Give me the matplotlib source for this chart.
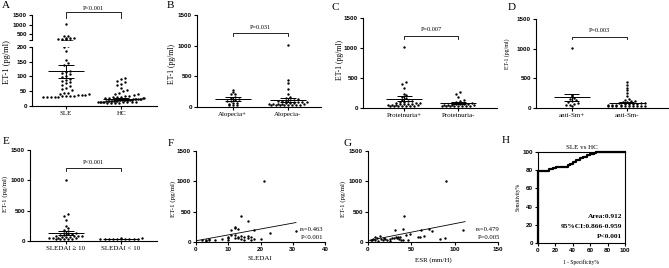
import numpy as np
import matplotlib.pyplot as plt

plt.rcParams['font.family'] = 'Liberation Sans'
plt.rcParams['font.weight'] = 'bold'

W, H = 669, 268
SERIF = ['Liberation Serif', 'DejaVu Serif']

# ---- A: SLE vs HC
sle = [1010, 430, 420, 300, 290, 280, 270, 260, 250, 205, 200,
       185, 155, 145, 140, 120, 115, 112, 110, 100, 98, 92, 88, 85, 83, 77, 72,
       68, 62, 58, 55, 45, 43, 42, 40, 38, 37, 36, 35, 34, 33, 33, 32, 31, 30, 30, 30]
hc = [95, 90, 85, 80, 75, 70, 62, 55, 50, 45, 42, 40, 38, 35, 33, 32, 30, 30, 28,
      28, 27, 26, 25, 25, 24, 24, 23, 23, 22, 22, 21, 21, 20, 20, 20, 19, 19, 18,
      18, 18, 17, 17, 16, 16, 16, 15, 15, 15, 14, 14, 13, 13, 12, 12, 11, 11, 10, 10]
# ---- B-E: subgroups
alo_pos = [270, 245, 210, 205, 165, 140, 130, 120, 100, 90, 70, 60, 50, 40, 35, 30]
alo_neg = [1010, 435, 395, 300, 220, 165, 140, 130, 120, 110, 100, 95, 90, 85, 80, 75,
           70, 65, 60, 55, 50, 48, 45, 42, 40, 38, 36, 35, 33, 32, 31, 30]
prot_pos = [1010, 435, 405, 340, 240, 210, 185, 160, 140, 120, 110, 100, 95, 90, 85, 80,
            75, 70, 65, 60, 55, 50, 45, 42, 40, 38, 36, 35, 33, 31, 30]
prot_neg = [265, 230, 185, 130, 110, 100, 90, 80, 75, 70, 65, 60, 55, 50, 45, 42, 40,
            38, 36, 35, 33, 32, 31, 30]
sm_pos = [1010, 225, 200, 170, 150, 130, 110, 95, 80, 65, 55, 45, 35]
sm_neg = [430, 390, 335, 295, 250, 195, 160, 140, 120, 110, 100, 95, 90, 85, 80, 75, 70,
          65, 60, 55, 50, 48, 45, 42, 40, 38, 36, 35, 33, 32, 31, 30, 30]
sledai_hi = [1010, 440, 410, 345, 240, 210, 180, 160, 140, 130, 120, 110, 100, 95, 90, 85,
             80, 75, 70, 65, 60, 55, 50, 45, 42, 40, 38, 36, 35, 33]
sledai_lo = [45, 42, 40, 38, 37, 36, 35, 34, 33, 32, 31, 30]

# mean / SEM
means = {'A': [117, 25], 'B': [131, 118], 'C': [155, 83], 'D': [180, 92], 'E': [137, 36]}
sems = {'A': [21, 3], 'B': [30, 33], 'C': [40, 12], 'D': [55, 15], 'E': [35, 2]}
pvals = {'A': 'P<0.001', 'B': 'P=0.031', 'C': 'P=0.007', 'D': 'P=0.003', 'E': 'P<0.001'}

# ---- F: SLEDAI vs ET-1
f_x = [2, 3, 3, 4, 4, 6, 8, 10, 10, 10, 11, 11, 12, 12, 12, 12, 13, 13, 13, 14, 14, 14,
       15, 15, 16, 16, 16, 17, 17, 18, 18, 20, 21, 23, 31]
f_y = [30, 40, 20, 30, 50, 40, 50, 90, 60, 40, 200, 110, 245, 230, 120, 70, 220, 90, 60,
       425, 100, 50, 80, 40, 350, 100, 60, 90, 40, 200, 50, 55, 1010, 150, 185]
f_fit = [20, 9.7]   # intercept, slope
# ---- G: ESR vs ET-1
g_x = [3, 5, 6, 8, 8, 10, 12, 14, 15, 17, 18, 20, 22, 25, 25, 28, 30, 31, 32, 33, 35, 36,
       37, 38, 40, 40, 41, 44, 46, 49, 58, 60, 61, 65, 70, 74, 83, 89, 90, 110]
g_y = [25, 40, 50, 30, 80, 60, 20, 100, 45, 35, 60, 50, 40, 55, 20, 60, 70, 200, 90, 60,
       75, 45, 80, 30, 215, 35, 425, 120, 30, 135, 75, 80, 200, 100, 220, 185, 55, 60, 1010, 195]
g_fit = [22, 2.8]
# ---- H: ROC
roc_fpr = [0, 0, 13, 13, 17, 17, 21, 21, 27, 27, 35, 35, 37, 37, 40, 40, 44, 44, 48, 48,
           52, 52, 56, 56, 60, 60, 64, 64, 67, 67, 100]
roc_tpr = [0, 79, 79, 81, 81, 82, 82, 83, 83, 84, 84, 86, 86, 87, 87, 89, 89, 91, 91, 93,
           93, 95, 95, 97, 97, 98, 98, 99, 99, 100, 100]


def box(l, t, r, b):
    return [l / W, 1 - b / H, (r - l) / W, (b - t) / H]


def style(ax, lsize=4.5):
    for s in ('top', 'right'):
        ax.spines[s].set_visible(False)
    for s in ('left', 'bottom'):
        ax.spines[s].set_linewidth(0.8)
    ax.tick_params(width=0.8, length=2.5, labelsize=lsize, pad=1.2)


def swarm(vals, center, binw, step, maxw=0.42):
    v = np.sort(np.asarray(vals, float))
    xs = np.zeros_like(v)
    bins = np.floor(v / binw)
    for b in np.unique(bins):
        idx = np.where(bins == b)[0]
        n = len(idx)
        st = step if n < 2 else min(step, 2 * maxw / (n - 1))
        xs[idx] = center + (np.arange(n) - (n - 1) / 2) * st
    return xs, v


def dots(ax, groups, key, binw, step=0.075):
    for i, g in enumerate(groups):
        xs, v = swarm(g, i, binw, step)
        ax.scatter(xs, v, s=3, c='black', lw=0, zorder=3)
        m, e = means[key][i], sems[key][i]
        ax.hlines(m, i - 0.33, i + 0.33, color='black', lw=0.7, zorder=4)
        ax.vlines(i, m - e, m + e, color='black', lw=0.7, zorder=4)
        ax.hlines([m - e, m + e], i - 0.14, i + 0.14, color='black', lw=0.7, zorder=4)


def bracket(ax, y, d, txt, ty):
    ax.plot([0, 0, 1, 1], [y - d, y, y, y - d], color='black', lw=0.6, clip_on=False)
    ax.text(0.5, ty, txt, ha='center', va='bottom', fontsize=4.5, family=SERIF,
            fontweight='normal')


def cats(ax, labels, xl, xr):
    ax.set_xlim(xl, xr)
    ax.set_xticks([0, 1])
    ax.set_xticklabels(labels, fontsize=5, family=SERIF, fontweight='normal')


def ylab(x, y, txt, size):
    fig.text(x / W, 1 - y / H, txt, rotation=90, ha='center', va='center',
             fontsize=size, family=SERIF, fontweight='normal')


def letter(x, y, txt):
    fig.text(x / W, 1 - y / H, txt, ha='left', va='top', fontsize=8, family=SERIF,
             fontweight='normal')


fig = plt.figure(figsize=(6.69, 2.68), dpi=100)

# A (broken axis)
axA1 = fig.add_axes(box(32, 15, 157, 40))
axA2 = fig.add_axes(box(32, 47, 157, 106))
for ax in (axA1, axA2):
    style(ax)
    dots(ax, [sle, hc], 'A', 14 if ax is axA2 else 60)
axA1.set_ylim(200, 1500)
axA1.set_yticks([200, 500, 1000, 1500])
axA1.set_yticklabels(['', '500', '1000', '1500'])
axA1.spines['bottom'].set_visible(False)
axA1.set_xticks([])
axA1.set_xlim(-0.62, 1.65)
axA2.set_ylim(0, 200)
axA2.set_yticks([0, 50, 100, 150, 200])
cats(axA2, ['SLE', 'HC'], -0.62, 1.65)
bracket(axA1, 1670, 330, pvals['A'], 1720)
ylab(7, 62, 'ET-1 (pg/ml)', 6)
letter(2, 1, 'A')

panels = [
    ('B', box(197, 15, 321, 107), [alo_pos, alo_neg], ['Alopecia+', 'Alopecia-'], (-0.65, 1.6), (172, 64, 5.5), (167, 1)),
    ('C', box(363, 18, 497, 108), [prot_pos, prot_neg], ['Proteinuria+', 'Proteinuria-'], (-0.76, 1.72), (340, 60, 5.5), (332, 3)),
    ('D', box(536, 19, 668, 108), [sm_pos, sm_neg], ['anti-Sm+', 'anti-Sm-'], (-0.65, 1.75), (507, 54, 4.2), (508, 3)),
    ('E', box(30, 150, 157, 241), [sledai_hi, sledai_lo], ['SLEDAI \u2265 10', 'SLEDAI < 10'], (-0.65, 1.65), (5, 194, 5), (3, 137)),
]
for key, rect, groups, labels, xlim, yl, lt in panels:
    ax = fig.add_axes(rect)
    style(ax)
    dots(ax, groups, key, 45, 0.075)
    ax.set_ylim(0, 1500)
    ax.set_yticks([0, 500, 1000, 1500])
    cats(ax, labels, *xlim)
    bracket(ax, 1200, 45, pvals[key], 1260)
    ylab(yl[0], yl[1], 'ET-1 (pg/ml)', yl[2])
    letter(lt[0], lt[1], key)

# F
axF = fig.add_axes(box(196, 151, 325, 242))
style(axF)
axF.scatter(f_x, f_y, s=3, c='black', lw=0, zorder=3)
xx = np.array([0, 31])
axF.plot(xx, f_fit[0] + f_fit[1] * xx, color='black', lw=0.6)
axF.set_xlim(0, 40)
axF.set_ylim(0, 1500)
axF.set_xticks([0, 10, 20, 30, 40])
axF.set_yticks([0, 500, 1000, 1500])
axF.text(39.5, 198, 'rs=0.463', ha='right', va='center', fontsize=4.8, family=SERIF, fontweight='normal')
axF.text(39.5, 66, 'P<0.001', ha='right', va='center', fontsize=4.8, family=SERIF, fontweight='normal')
fig.text(260 / W, 1 - 258 / H, 'SLEDAI', ha='center', va='center', fontsize=5, family=SERIF, fontweight='normal')
ylab(173, 199, 'ET-1 (pg/ml)', 5)
letter(168, 139, 'F')

# G
axG = fig.add_axes(box(368, 151, 498, 242))
style(axG)
axG.scatter(g_x, g_y, s=3, c='black', lw=0, zorder=3)
xx = np.array([0, 112])
axG.plot(xx, g_fit[0] + g_fit[1] * xx, color='black', lw=0.6)
axG.set_xlim(0, 150)
axG.set_ylim(0, 1500)
axG.set_xticks([0, 50, 100, 150])
axG.set_yticks([0, 500, 1000, 1500])
axG.text(152, 198, 'rs=0.479', ha='right', va='center', fontsize=4.8, family=SERIF, fontweight='normal')
axG.text(152, 66, 'P=0.005', ha='right', va='center', fontsize=4.8, family=SERIF, fontweight='normal')
fig.text(433 / W, 1 - 260 / H, 'ESR (mm/H)', ha='center', va='center', fontsize=5, family=SERIF, fontweight='normal')
ylab(343, 199, 'ET-1 (pg/ml)', 5)
letter(343, 139, 'G')

# H
axH = fig.add_axes(box(538, 152, 625, 243))
for s in axH.spines.values():
    s.set_linewidth(0.8)
axH.tick_params(width=0.8, length=2.5, labelsize=4.5, pad=1.2)
axH.plot(roc_fpr, roc_tpr, color='black', lw=1.6, clip_on=False, zorder=3)
axH.set_xlim(0, 100)
axH.set_ylim(0, 100)
axH.set_xticks(range(0, 101, 20))
axH.set_yticks(range(0, 101, 20))
axH.set_title('SLE vs HC', fontsize=5, family=SERIF, fontweight='normal', pad=2)
for y, t in ((29, 'Area:0.912'), (18, '95%CI:0.866-0.959'), (7, 'P<0.001')):
    axH.text(97, y, t, ha='right', va='center', fontsize=5.3, family=SERIF, fontweight='bold')
fig.text(581 / W, 1 - 262 / H, '1 - Specificity%', ha='center', va='center', fontsize=4, family=SERIF, fontweight='normal')
ylab(518, 197, 'Sensitivity%', 4)
letter(502, 136, 'H')

fig.savefig('out.png', dpi=100)
